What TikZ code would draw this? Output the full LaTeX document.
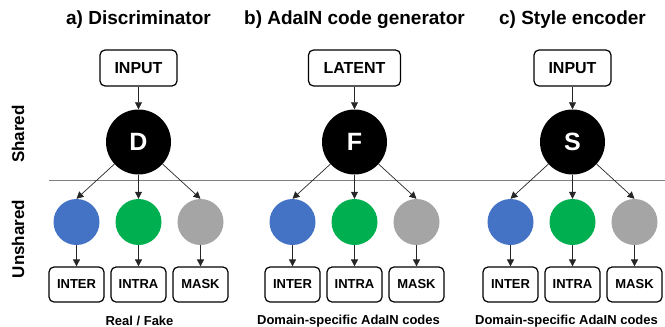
\documentclass[tikz,border=0pt]{standalone}
\usepackage{fontspec}
\setmainfont{Liberation Sans}
\usetikzlibrary{arrows.meta}
\definecolor{cblue}{HTML}{4472C4}
\definecolor{cgreen}{HTML}{00B050}
\definecolor{cgray}{HTML}{A5A5A5}
\tikzset{
  topbox/.style={draw, line width=1.2pt, rounded corners=5pt, minimum height=36pt, inner sep=0pt, font=\fontsize{16}{16}\selectfont\bfseries},
  outbox/.style={draw, line width=1.2pt, rounded corners=5pt, minimum width=55pt, minimum height=35pt, inner sep=0pt, font=\fontsize{13}{13}\selectfont\bfseries},
  hub/.style={circle, fill=black, minimum size=65pt, inner sep=0pt, text=white, font=\fontsize{25}{25}\selectfont\bfseries},
  leaf/.style={circle, minimum size=46pt, inner sep=0pt},
  arr/.style={-{Triangle[length=7pt,width=7pt]}, line width=0.7pt, draw=black!85},
  title/.style={font=\fontsize{19}{19}\selectfont\bfseries},
  caption/.style={font=\fontsize{13}{13}\selectfont\bfseries},
  side/.style={font=\fontsize{17}{17}\selectfont\bfseries, rotate=90}
}
\begin{document}
\begin{tikzpicture}[x=1pt,y=-1pt]
\useasboundingbox (0,0) rectangle (665,327);
% side labels and separator
\node[side] (shared) at (18,134) {Shared};
\node[side] (unshared) at (18,239) {Unshared};
\coordinate (lineL) at (49,180);
\coordinate (lineR) at (665,180);
\draw[gray, line width=0.9pt] (lineL) -- (lineR);
% panels
\foreach \cx/\tt/\top/\bw/\hubl/\cap/\cpx/\pid in {138.5/{a) Discriminator}/INPUT/77/D/{Real / Fake}/139.5/a, 354.5/{b) AdaIN code generator}/LATENT/92/F/{Domain-specific AdaIN codes}/348.5/b, 572.5/{c) Style encoder}/INPUT/77/S/{Domain-specific AdaIN codes}/566.5/c}{
  \node[title] (t\pid) at (\cx,20) {\tt};
  \node[topbox, minimum width=\bw pt] (in\pid) at (\cx,68) {\top};
  \node[hub] (h\pid) at (\cx,142) {\hubl};
  \node[leaf, fill=cblue] (b\pid) at (\cx-62,222) {};
  \node[leaf, fill=cgreen] (g\pid) at (\cx,222) {};
  \node[leaf, fill=cgray] (r\pid) at (\cx+62,222) {};
  \node[outbox] (o1\pid) at (\cx-62,284.5) {INTER};
  \node[outbox] (o2\pid) at (\cx,284.5) {INTRA};
  \node[outbox] (o3\pid) at (\cx+62,284.5) {MASK};
  \node[caption] (c\pid) at (\cpx,321) {\cap};
  \draw[arr] (in\pid) -- (h\pid);
  \draw[arr] (h\pid) -- (b\pid.north);
  \draw[arr] (h\pid) -- (g\pid);
  \draw[arr] (h\pid) -- (r\pid.north);
  \draw[arr] (b\pid) -- (o1\pid);
  \draw[arr] (g\pid) -- (o2\pid);
  \draw[arr] (r\pid) -- (o3\pid);
}
\end{tikzpicture}
\end{document}
